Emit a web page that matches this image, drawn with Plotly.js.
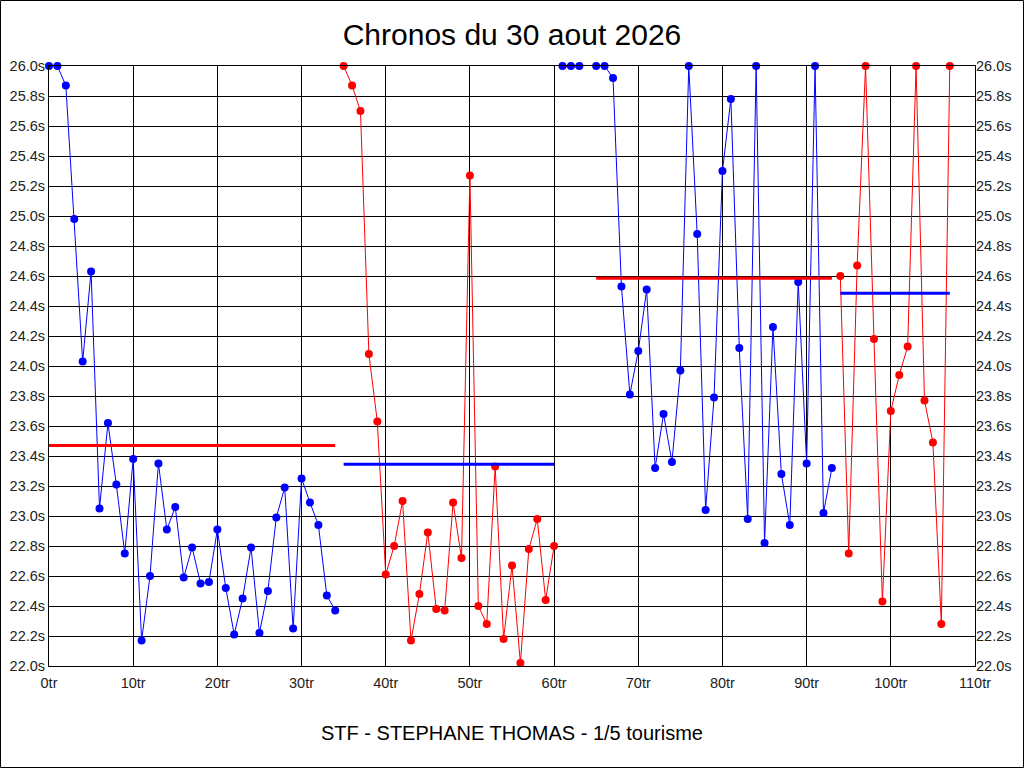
<!DOCTYPE html>
<html>
<head>
<meta charset="utf-8">
<script src="https://cdn.plot.ly/plotly-3.0.1.min.js"></script>
<style>
html,body{margin:0;padding:0;background:#fff;}
#chart{width:1024px;height:768px;}
</style>
</head>
<body>
<div id="chart"></div>
<script>
// Session 1 (blue)
const lapsA = [0,1,2,3,4,5,6,7,8,9,10,11,12,13,14,15,16,17,18,19,20,21,22,23,24,25,26,27,28,29,30,31,32,33,34];
const timesA = [26.0,26.0,25.87,24.98,24.03,24.63,23.05,23.62,23.21,22.75,23.38,22.17,22.60,23.35,22.91,23.06,22.59,22.79,22.55,22.56,22.91,22.52,22.21,22.45,22.79,22.22,22.50,22.99,23.19,22.25,23.25,23.09,22.94,22.47,22.37];
// Session 2 (red)
const lapsB = [35,36,37,38,39,40,41,42,43,44,45,46,47,48,49,50,51,52,53,54,55,56,57,58,59,60];
const timesB = [26.0,25.87,25.70,24.08,23.63,22.61,22.80,23.10,22.17,22.48,22.89,22.38,22.37,23.09,22.72,25.27,22.40,22.28,23.33,22.18,22.67,22.02,22.78,22.98,22.44,22.80];
// Short group (blue points, red link)
const lapsX = [61,62,63];
const timesX = [26.0,26.0,26.0];
// Session 3 (blue)
const lapsC = [65,66,67,68,69,70,71,72,73,74,75,76,77,78,79,80,81,82,83,84,85,86,87,88,89,90,91,92,93];
const timesC = [26.0,26.0,25.92,24.53,23.81,24.10,24.51,23.32,23.68,23.36,23.97,26.0,24.88,23.04,23.79,25.30,25.78,24.12,22.98,26.0,22.82,24.26,23.28,22.94,24.56,23.35,26.0,23.02,23.32];
// Session 4 (red)
const lapsD = [94,95,96,97,98,99,100,101,102,103,104,105,106,107];
const timesD = [24.60,22.75,24.67,26.0,24.18,22.43,23.70,23.94,24.13,26.0,23.77,23.49,22.28,26.0];

// Session averages: [startLap, endLap], value
const avgLapsA = [0,34];   const avgA = 23.47;
const avgLapsB = [35,60];  const avgB = 23.345;
const avgLapsC = [65,93];  const avgC = 24.585;
const avgLapsD = [94,107]; const avgD = 24.485;

const xTickVals = [0,10,20,30,40,50,60,70,80,90,100,110];
const xTickText = ['0tr','10tr','20tr','30tr','40tr','50tr','60tr','70tr','80tr','90tr','100tr','110tr'];

const titleText = 'Chronos du 30 aout 2026';
const footerText = 'STF - STEPHANE THOMAS - 1/5 tourisme';

const BLUE = '#0000ff', RED = '#ff0000';
function series(x, y, color){
  return {x:x, y:y, type:'scatter', mode:'lines+markers', cliponaxis:false,
    line:{color:color, width:1}, marker:{color:color, size:8}, hoverinfo:'x+y', showlegend:false};
}
function avgLine(xr, v, color){
  return {x:xr, y:[v,v], type:'scatter', mode:'lines', yaxis:'y2',
    line:{color:color, width:3}, hoverinfo:'y', showlegend:false};
}

const traces = [
  series(lapsA, timesA, BLUE),
  series(lapsB, timesB, RED),
  {x:lapsX, y:timesX, type:'scatter', mode:'lines', line:{color:RED, width:3}, showlegend:false, hoverinfo:'skip'},
  {x:lapsX, y:timesX, type:'scatter', mode:'markers', cliponaxis:false, marker:{color:BLUE, size:8}, showlegend:false},
  series(lapsC, timesC, BLUE),
  series(lapsD, timesD, RED),
  avgLine(avgLapsA, avgA, RED),
  avgLine(avgLapsB, avgB, BLUE),
  avgLine(avgLapsC, avgC, RED),
  avgLine(avgLapsD, avgD, BLUE)
];

const tickFont = {family:'Liberation Sans, Arial, sans-serif', size:14.5, color:'#222'};
const layout = {
  width:1024, height:768,
  margin:{l:49, r:49, t:66, b:102, pad:0},
  paper_bgcolor:'#fff', plot_bgcolor:'#fff',
  font:{family:'Liberation Sans, Arial, sans-serif', color:'#000'},
  title:{text:titleText, x:0.5, xanchor:'center', y:1-34/768, yanchor:'middle', yref:'container',
    font:{family:'Liberation Sans, Arial, sans-serif', size:30, color:'#000'}},
  xaxis:{range:[0,110], tickvals:xTickVals, ticktext:xTickText, showgrid:true, gridcolor:'#000', gridwidth:1,
    zeroline:false, showline:true, linecolor:'#000', linewidth:1, mirror:true, ticks:'', tickfont:tickFont,
    ticklabelstandoff:4},
  yaxis:{range:[22,26], dtick:0.2, tick0:22, tickformat:'.1f', ticksuffix:'s', showgrid:true, gridcolor:'#000', gridwidth:1,
    zeroline:false, showline:true, linecolor:'#000', linewidth:1, mirror:true, ticks:'', tickfont:tickFont},
  yaxis2:{range:[22,26], dtick:0.2, tick0:22, tickformat:'.1f', ticksuffix:'s', overlaying:'y', side:'right',
    showgrid:false, zeroline:false, showline:false, ticks:'', tickfont:tickFont},
  annotations:[{text:footerText, xref:'paper', yref:'paper', x:(512-49)/926, y:(666-733)/600,
    xanchor:'center', yanchor:'middle', showarrow:false,
    font:{family:'Liberation Sans, Arial, sans-serif', size:20, color:'#000'}}],
  shapes:[{type:'rect', xref:'paper', yref:'paper', x0:-48.5/926, x1:(1023.5-49)/926, y0:(666-767.5)/600, y1:(666-0.5)/600,
    line:{color:'#000', width:1}, fillcolor:'rgba(0,0,0,0)'}]
};

Plotly.newPlot('chart', traces, layout, {staticPlot:true, displayModeBar:false});
</script>
</body>
</html>
